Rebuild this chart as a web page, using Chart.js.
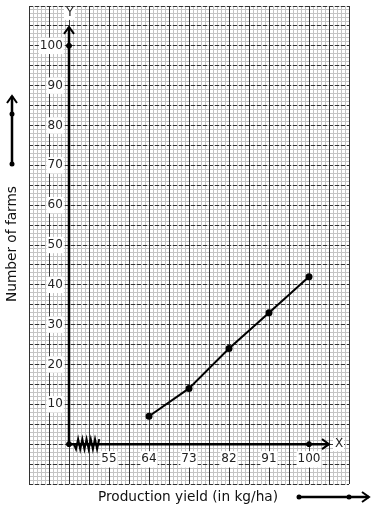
<!DOCTYPE html>
<html>
<head>
<meta charset="utf-8">
<script src="https://cdn.jsdelivr.net/npm/chart.js@4.4.1/dist/chart.umd.min.js"></script>
<style>
  html, body { margin: 0; padding: 0; background: #fff; }
  #wrap { width: 374px; height: 510px; }
</style>
</head>
<body>
<div id="wrap"><canvas id="yieldChart" width="374" height="510"></canvas></div>
<script>
// --- data ---
const yieldValues = [64, 73, 82, 91, 100];     // production yield (kg/ha)
const farmCounts = [7, 14, 24, 33, 42];         // number of farms
const xTickValues = [55, 64, 73, 82, 91, 100];
const yTickValues = [10, 20, 30, 40, 50, 60, 70, 80, 90, 100];
const axisDotsX = [46, 46, 100];
const axisDotsY = [0, 100, 0];
const originX = 46;                // x axis starts here (with a kink)
const xRange = [37, 109];
const yRange = [-10, 110];
const xArrowEnd = 104.5;
const yArrowEnd = 104.75;

const FONT = 'DejaVu Sans';

function gridScale(axis, max, color, dash) {
    return {
        type: 'linear', axis: axis, position: axis === 'x' ? 'bottom' : 'left',
        min: 0, max: max,
        ticks: { display: false, stepSize: 1 },
        grid: { color: color, lineWidth: 1, drawTicks: false },
        border: { display: false, dash: dash || [] }
    };
}

function noPad(s) {
    s.paddingTop = 0; s.paddingBottom = 0; s.paddingLeft = 0; s.paddingRight = 0;
}

function chevron(ctx, tx, ty, dir) {
    // open arrow head pointing up ('up') or right ('right')
    ctx.beginPath();
    if (dir === 'up') {
        ctx.moveTo(tx - 5, ty + 7); ctx.lineTo(tx, ty); ctx.lineTo(tx + 5, ty + 7);
    } else {
        ctx.moveTo(tx - 7, ty - 5); ctx.lineTo(tx, ty); ctx.lineTo(tx - 7, ty + 5);
    }
    ctx.stroke();
}

function dot(ctx, px, py) {
    ctx.beginPath();
    ctx.arc(px, py, 2.5, 0, Math.PI * 2);
    ctx.fill();
}

const paperAxes = {
    id: 'paperAxes',
    beforeDatasetsDraw(chart) {
        const { ctx, scales: { x, y } } = chart;
        const ox = x.getPixelForValue(originX);
        const oy = y.getPixelForValue(0);
        const top = y.getPixelForValue(yArrowEnd);
        const right = x.getPixelForValue(xArrowEnd);
        ctx.save();
        ctx.strokeStyle = '#000';
        ctx.lineWidth = 2.5;
        ctx.beginPath();
        ctx.moveTo(ox, oy); ctx.lineTo(ox, top);
        ctx.moveTo(ox, oy); ctx.lineTo(right, oy);
        ctx.stroke();
        ctx.lineWidth = 2;
        chevron(ctx, ox, top, 'up');
        chevron(ctx, right, oy, 'right');

        // kink on the x axis
        const z0 = x.getPixelForValue(47.1), z1 = x.getPixelForValue(52.8);
        const n = 12, step = (z1 - z0) / n;
        ctx.beginPath();
        ctx.moveTo(z0, oy);
        for (let i = 1; i <= n; i++) {
            ctx.lineTo(z0 + step * i, oy + (i % 2 ? 5 : -5));
        }
        ctx.stroke();

        // axis letters
        ctx.font = '12px ' + FONT;
        ctx.textAlign = 'center';
        ctx.textBaseline = 'middle';
        ctx.fillStyle = '#fff';
        ctx.fillRect(ox - 5, top - 20, 11, 13);
        ctx.fillRect(right + 4, oy - 6, 11, 13);
        ctx.fillStyle = '#222';
        ctx.fillText('Y', ox + 1, top - 14);
        ctx.fillText('X', right + 10, oy);
        ctx.restore();
    },
    afterDraw(chart) {
        const { ctx, chartArea } = chart;
        const ty = chartArea.bottom + 13;
        ctx.save();
        ctx.fillStyle = '#111';
        ctx.strokeStyle = '#000';
        ctx.font = '13.7px ' + FONT;
        ctx.textAlign = 'center';
        ctx.textBaseline = 'middle';
        // x title
        ctx.fillText('Production yield (in kg/ha)', 188, ty);
        // y title
        ctx.save();
        ctx.translate(12, 244);
        ctx.rotate(-Math.PI / 2);
        ctx.fillText('Number of farms', 0, 0);
        ctx.restore();

        // direction arrows next to the titles
        ctx.lineWidth = 2.5;
        ctx.beginPath();
        ctx.moveTo(12, 164); ctx.lineTo(12, 96);
        ctx.moveTo(299, ty); ctx.lineTo(369, ty);
        ctx.stroke();
        ctx.lineWidth = 2;
        chevron(ctx, 12, 96, 'up');
        chevron(ctx, 369, ty, 'right');
        ctx.fillStyle = '#000';
        dot(ctx, 12, 164); dot(ctx, 12, 114);
        dot(ctx, 299, ty); dot(ctx, 349, ty);
        ctx.restore();
    }
};

const tickFont = { family: FONT, size: 12 };

new Chart(document.getElementById('yieldChart'), {
    type: 'line',
    data: {
        datasets: [
            {
                label: 'Farms',
                xAxisID: 'x', yAxisID: 'y',
                data: yieldValues.map((v, i) => ({ x: v, y: farmCounts[i] })),
                borderColor: '#000',
                backgroundColor: '#000',
                borderWidth: 2,
                pointRadius: 2.5,
                pointBackgroundColor: '#000',
                tension: 0
            },
            {
                label: 'Axis marks',
                xAxisID: 'x', yAxisID: 'y',
                data: axisDotsX.map((v, i) => ({ x: v, y: axisDotsY[i] })),
                showLine: false,
                pointRadius: 2.5,
                pointBackgroundColor: '#000',
                pointBorderColor: '#000'
            }
        ]
    },
    options: {
        responsive: false,
        animation: false,
        layout: { padding: { left: 29, top: 4, right: 25, bottom: 26 } },
        plugins: { legend: { display: false }, tooltip: { enabled: false } },
        scales: {
            gxMinor: gridScale('x', 80, '#c4c4c4'),
            gyMinor: gridScale('y', 120, '#c4c4c4'),
            gxMajor: gridScale('x', 16, '#333'),
            gyMajor: gridScale('y', 24, '#333', [4, 2]),
            x: {
                type: 'linear',
                min: xRange[0], max: xRange[1],
                position: { y: 0 },
                grid: { display: false },
                border: { display: false },
                afterBuildTicks: s => { s.ticks = xTickValues.map(v => ({ value: v })); },
                afterFit: noPad,
                ticks: {
                    font: tickFont, color: '#222', padding: 0,
                    autoSkip: false, maxRotation: 0,
                    showLabelBackdrop: true, backdropColor: '#fff', backdropPadding: 1
                }
            },
            y: {
                type: 'linear',
                min: yRange[0], max: yRange[1],
                // labels sit a few pixels left of the drawn axis line
                position: { x: originX - 1.4 },
                grid: { display: false },
                border: { display: false },
                afterBuildTicks: s => { s.ticks = yTickValues.map(v => ({ value: v })); },
                afterFit: noPad,
                ticks: {
                    font: tickFont, color: '#222', padding: 0,
                    autoSkip: false,
                    showLabelBackdrop: true, backdropColor: '#fff', backdropPadding: 1
                }
            }
        }
    },
    plugins: [paperAxes]
});
</script>
</body>
</html>
